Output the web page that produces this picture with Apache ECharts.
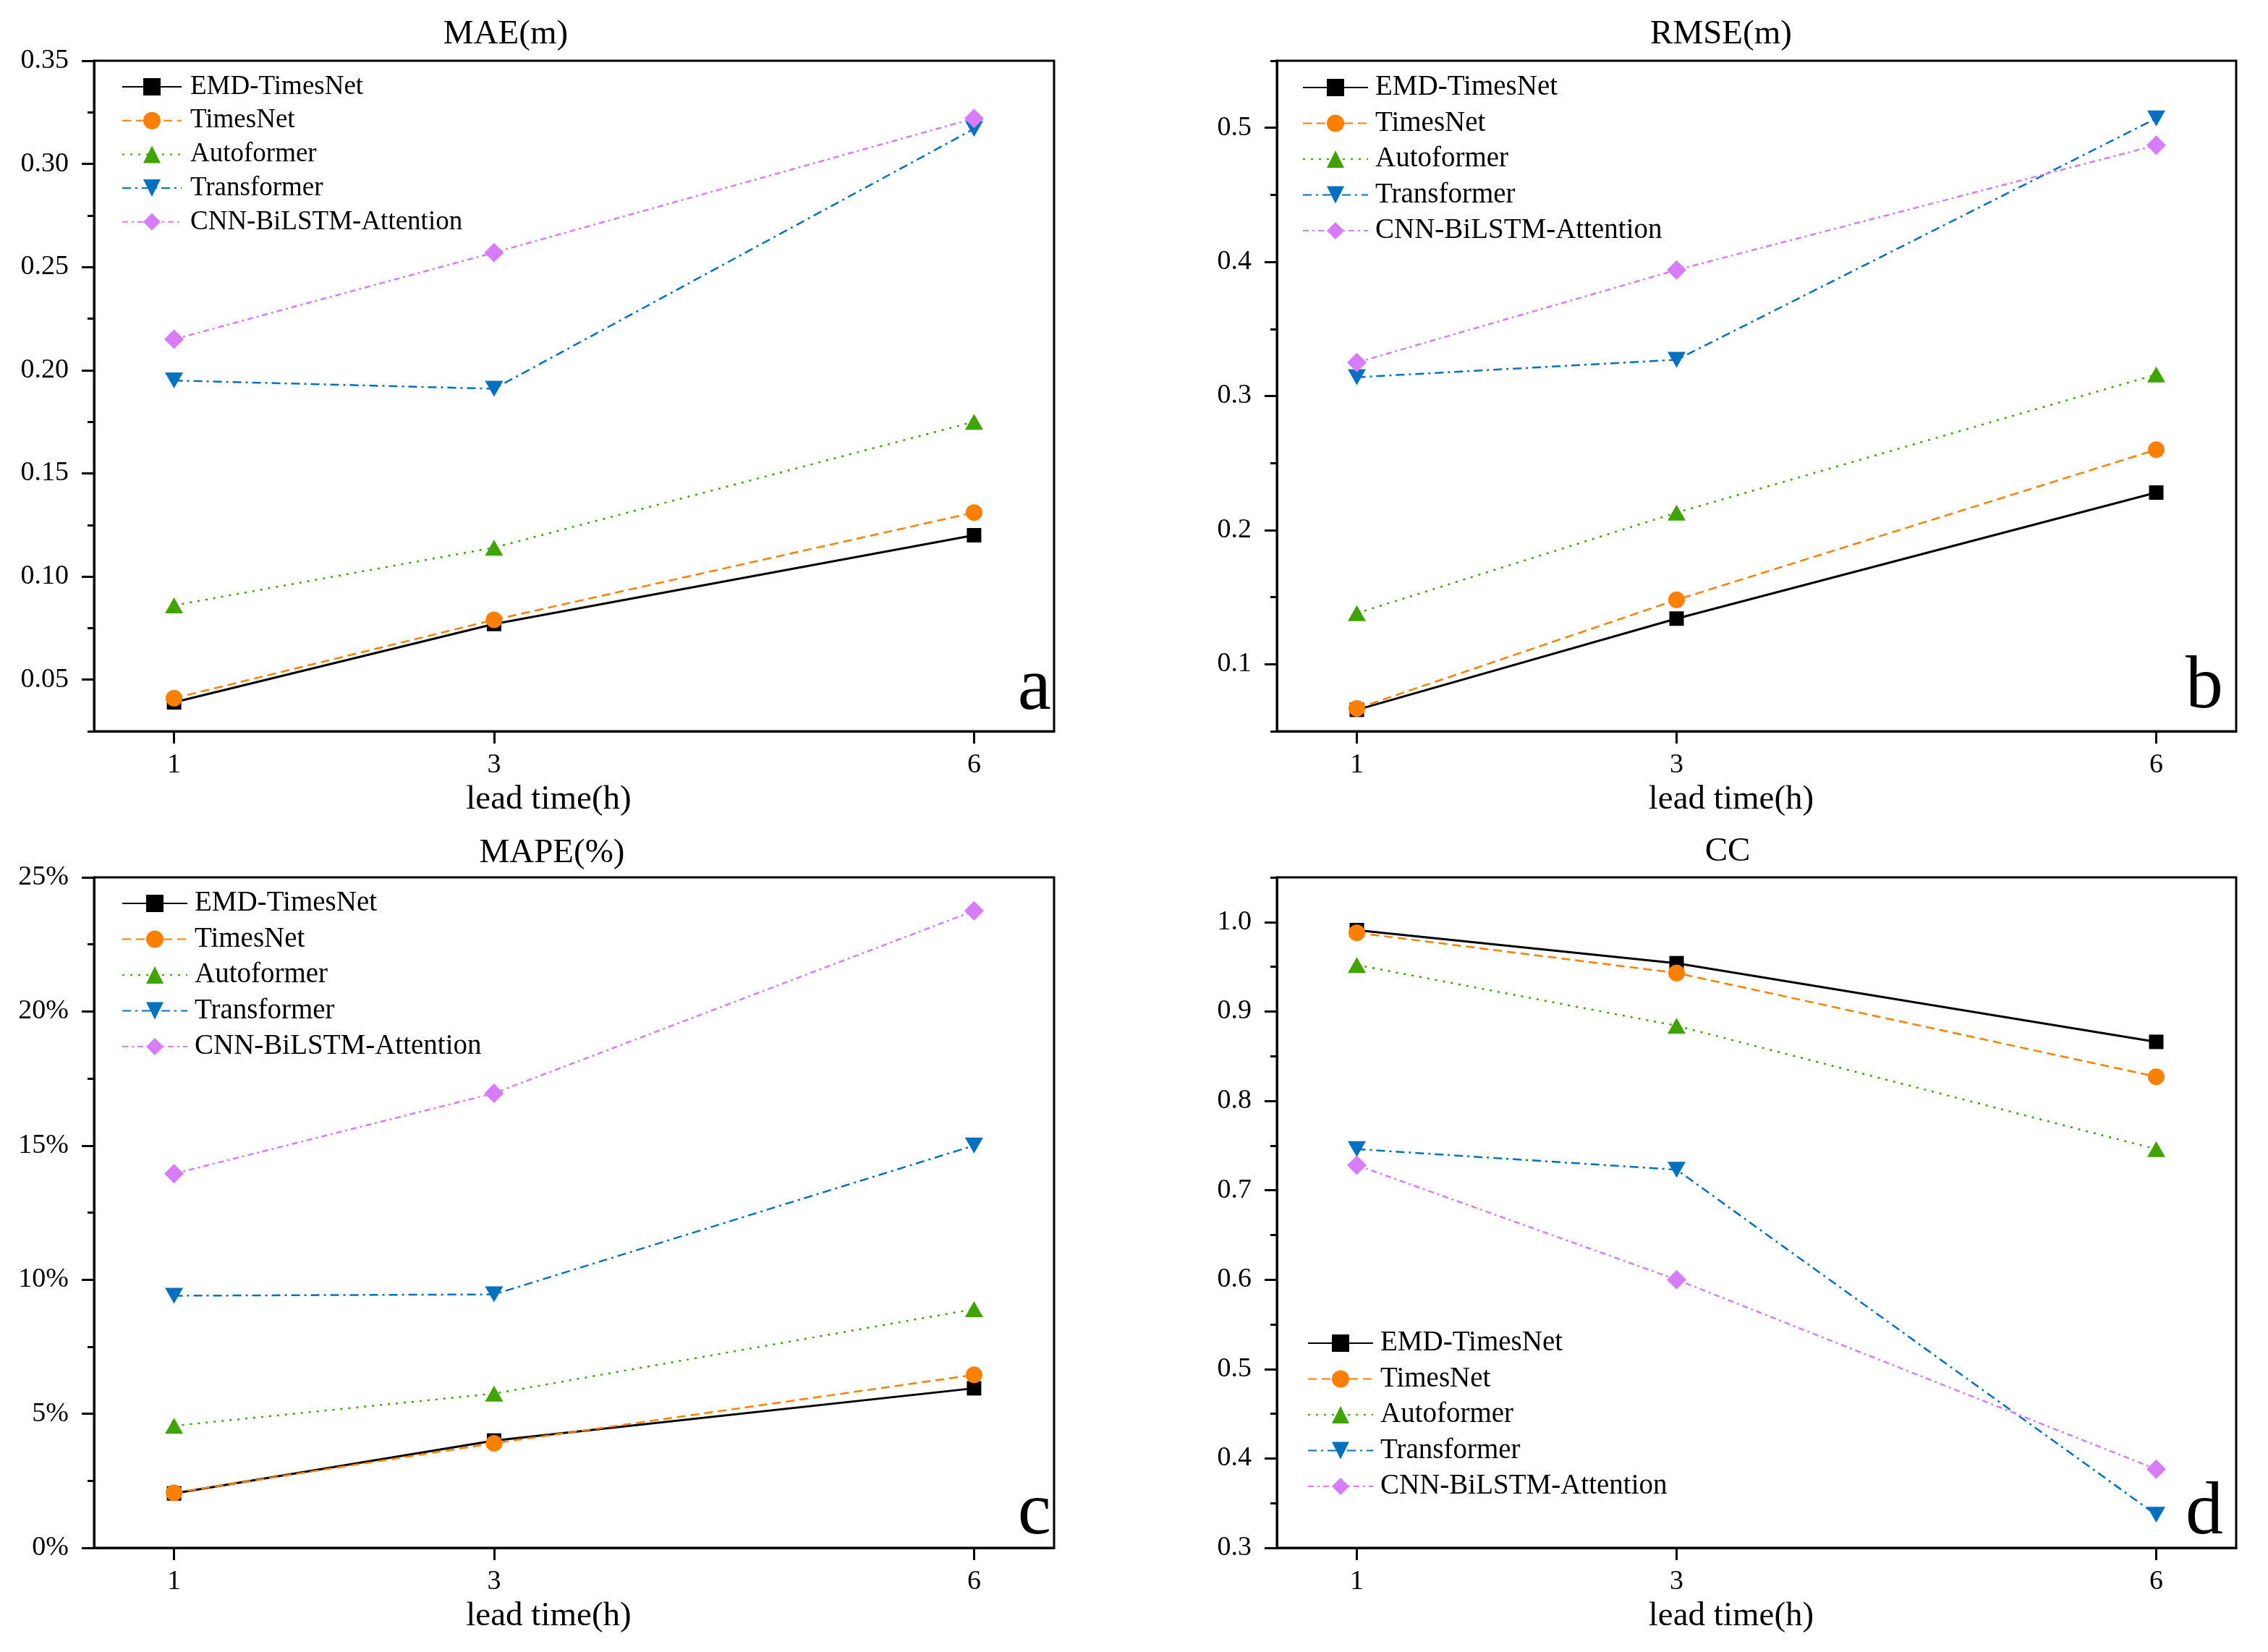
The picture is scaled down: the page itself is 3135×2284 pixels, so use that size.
<!DOCTYPE html>
<html><head><meta charset="utf-8">
<script src="https://cdn.jsdelivr.net/npm/echarts@6.0.0/dist/echarts.min.js"></script>
<style>html,body{margin:0;padding:0;background:#fff}#c{width:3135px;height:2284px}</style>
</head><body><div id="c"></div>
<script>
// ---------- data ----------
const leadTimes = [1, 3, 6];
const modelNames = ['EMD-TimesNet', 'TimesNet', 'Autoformer', 'Transformer', 'CNN-BiLSTM-Attention'];

const maeEMD = [0.039, 0.077, 0.120];
const maeTimesNet = [0.041, 0.079, 0.131];
const maeAutoformer = [0.086, 0.114, 0.175];
const maeTransformer = [0.195, 0.191, 0.317];
const maeCNN = [0.215, 0.257, 0.322];

const rmseEMD = [0.066, 0.134, 0.228];
const rmseTimesNet = [0.067, 0.148, 0.260];
const rmseAutoformer = [0.138, 0.213, 0.316];
const rmseTransformer = [0.314, 0.327, 0.507];
const rmseCNN = [0.325, 0.394, 0.487];

const mapeEMD = [2.03, 4.00, 5.95];
const mapeTimesNet = [2.05, 3.90, 6.45];
const mapeAutoformer = [4.55, 5.75, 8.90];
const mapeTransformer = [9.40, 9.45, 15.00];
const mapeCNN = [13.95, 16.95, 23.75];

const ccEMD = [0.991, 0.954, 0.866];
const ccTimesNet = [0.988, 0.943, 0.827];
const ccAutoformer = [0.952, 0.884, 0.746];
const ccTransformer = [0.746, 0.723, 0.337];
const ccCNN = [0.728, 0.600, 0.388];

const maeTicks = [0.05, 0.10, 0.15, 0.20, 0.25, 0.30, 0.35];
const maeMinor = [0.025, 0.075, 0.125, 0.175, 0.225, 0.275, 0.325];
const rmseTicks = [0.1, 0.2, 0.3, 0.4, 0.5];
const rmseMinor = [0.05, 0.15, 0.25, 0.35, 0.45, 0.55];
const mapeTicks = [0, 5, 10, 15, 20, 25];
const mapeMinor = [2.5, 7.5, 12.5, 17.5, 22.5];
const ccTicks = [0.3, 0.4, 0.5, 0.6, 0.7, 0.8, 0.9, 1.0];
const ccMinor = [0.35, 0.45, 0.55, 0.65, 0.75, 0.85, 0.95, 1.05];
const xTicks = [1, 3, 6];

// ---------- styles ----------
const FONT = 'Liberation Serif';
const seriesStyles = [
  {color: '#000000', dash: 'solid', width: 3, symbol: 'rect', size: 20, rotate: 0},
  {color: '#FF8000', dash: [12, 7], width: 2.5, symbol: 'circle', size: 23, rotate: 0},
  {color: '#3FA300', dash: [3, 8], width: 2.5, symbol: 'triangle', size: [25, 22], rotate: 0},
  {color: '#0070C0', dash: [12, 6, 3, 6], width: 2.5, symbol: 'triangle', size: [25, 22], rotate: 180},
  {color: '#D77CFF', dash: [8, 5, 3, 5], width: 2.5, symbol: 'diamond', size: 27, rotate: 0}
];

const panels = [
  {title: 'MAE(m)', tx: 699, ty: 48, letter: 'a', lx: 1453, ly: 953,
   grid: {left: 130, top: 84, width: 1327, height: 927},
   min: 0.025, max: 0.35, ticks: maeTicks, minor: maeMinor, fmt: v => v.toFixed(2),
   values: [maeEMD, maeTimesNet, maeAutoformer, maeTransformer, maeCNN],
   legend: {left: 168, top: 101.5, itemWidth: 82, fontSize: 37, gap: 9.7, pad: 7}},
  {title: 'RMSE(m)', tx: 2379, ty: 48, letter: 'b', lx: 3073, ly: 951,
   grid: {left: 1765, top: 84, width: 1326, height: 927},
   min: 0.05, max: 0.55, ticks: rmseTicks, minor: rmseMinor, fmt: v => v.toFixed(1),
   values: [rmseEMD, rmseTimesNet, rmseAutoformer, rmseTransformer, rmseCNN],
   legend: {left: 1800, top: 101.5, itemWidth: 90, fontSize: 39, gap: 10.5, pad: 5}},
  {title: 'MAPE(%)', tx: 763, ty: 1180, letter: 'c', lx: 1453, ly: 2093,
   grid: {left: 130, top: 1213, width: 1327, height: 927},
   min: 0, max: 25, ticks: mapeTicks, minor: mapeMinor, fmt: v => Math.round(v) + '%',
   values: [mapeEMD, mapeTimesNet, mapeAutoformer, mapeTransformer, mapeCNN],
   legend: {left: 168, top: 1229.5, itemWidth: 90, fontSize: 39, gap: 10.5, pad: 5}},
  {title: 'CC', tx: 2388, ty: 1178, letter: 'd', lx: 3073, ly: 2093,
   grid: {left: 1765, top: 1213, width: 1326, height: 927},
   min: 0.3, max: 1.05, ticks: ccTicks, minor: ccMinor, fmt: v => v.toFixed(1),
   values: [ccEMD, ccTimesNet, ccAutoformer, ccTransformer, ccCNN],
   legend: {left: 1807, top: 1837.5, itemWidth: 90, fontSize: 39, gap: 10.5, pad: 5}}
];

const option = {
  backgroundColor: '#ffffff',
  animation: false,
  textStyle: {fontFamily: FONT, color: '#000'},
  grid: [], xAxis: [], yAxis: [], series: [], legend: [], graphic: []
};

panels.forEach((p, i) => {
  option.grid.push(Object.assign({show: true, borderColor: '#000', borderWidth: 3,
    backgroundColor: 'transparent', containLabel: false, outerBoundsMode: 'none'}, p.grid));
  option.xAxis.push({
    type: 'value', gridIndex: i, min: 0.5, max: 6.5,
    axisLine: {show: true, lineStyle: {color: '#000', width: 3}},
    axisTick: {show: true, length: 17, lineStyle: {color: '#000', width: 3}, customValues: xTicks},
    axisLabel: {show: true, customValues: xTicks, margin: 28, fontFamily: FONT, fontSize: 38, color: '#000',
      formatter: v => String(v)},
    splitLine: {show: false},
    name: 'lead time(h)', nameLocation: 'middle', nameGap: 71,
    nameTextStyle: {fontFamily: FONT, fontSize: 47, color: '#000', padding: [0, 70, 0, 0]}
  });
  option.yAxis.push({
    type: 'value', gridIndex: i, min: p.min, max: p.max, position: 'left',
    axisLine: {show: true, lineStyle: {color: '#000', width: 3}},
    axisTick: {show: true, length: 17, lineStyle: {color: '#000', width: 3}, customValues: p.ticks},
    axisLabel: {show: true, customValues: p.ticks, margin: 35, fontFamily: FONT, fontSize: 38, color: '#000',
      formatter: p.fmt},
    splitLine: {show: false}
  });
  option.yAxis.push({
    type: 'value', gridIndex: i, min: p.min, max: p.max, position: 'left',
    axisLine: {show: false},
    axisTick: {show: true, length: 9, lineStyle: {color: '#000', width: 3}, customValues: p.minor},
    axisLabel: {show: false},
    splitLine: {show: false}
  });
  modelNames.forEach((name, k) => {
    const s = seriesStyles[k];
    option.series.push({
      type: 'line', name: name, xAxisIndex: i, yAxisIndex: 2 * i,
      data: leadTimes.map((x, j) => [x, p.values[k][j]]),
      symbol: s.symbol, symbolSize: s.size, symbolRotate: s.rotate,
      lineStyle: {color: s.color, width: s.width, type: s.dash},
      itemStyle: {color: s.color},
      emphasis: {disabled: true}, silent: true, z: 2 + k
    });
  });
  const L = p.legend;
  option.legend.push({
    orient: 'vertical', left: L.left, top: L.top, padding: 0,
    itemWidth: L.itemWidth, itemHeight: 30, itemGap: L.gap, selectedMode: false,
    textStyle: {fontFamily: FONT, fontSize: L.fontSize, lineHeight: L.fontSize, color: '#000', padding: [0, 0, 0, L.pad]},
    data: modelNames
  });
  option.graphic.push({
    type: 'text', x: p.tx, y: p.ty, silent: true,
    style: {text: p.title, fontFamily: FONT, fontSize: 47, fill: '#000', textAlign: 'center', textVerticalAlign: 'middle'}
  });
  option.graphic.push({
    type: 'text', x: p.lx, y: p.ly, silent: true,
    style: {text: p.letter, fontFamily: FONT, fontSize: 104, fill: '#000', textAlign: 'right', textVerticalAlign: 'middle'}
  });
});

const chart = echarts.init(document.getElementById('c'), null, {renderer: 'canvas'});
chart.setOption(option);
</script>
</body></html>
